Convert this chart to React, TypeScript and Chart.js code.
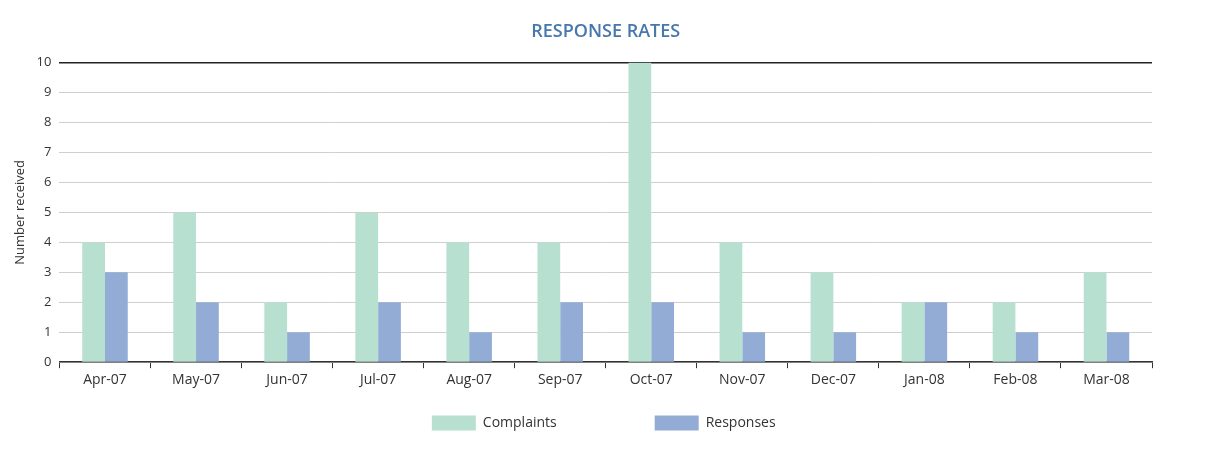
import React, { useEffect, useRef } from "react";
import { Chart, registerables } from "chart.js";

Chart.register(...registerables);

const categories = ["Apr-07", "May-07", "Jun-07", "Jul-07", "Aug-07", "Sep-07", "Oct-07", "Nov-07", "Dec-07", "Jan-08", "Feb-08", "Mar-08"];
const complaints = [4, 5, 2, 5, 4, 4, 10, 4, 3, 2, 2, 3];
const responses = [3, 2, 1, 2, 1, 2, 2, 1, 1, 2, 1, 1];
const yTicks = [0, 1, 2, 3, 4, 5, 6, 7, 8, 9, 10];

const FONT = "'Open Sans', 'DejaVu Sans', sans-serif";
const TEXT = "#333333";
const COMPLAINTS_COLOR = "#b8e0d1";
const RESPONSES_COLOR = "#93acd5";

const bottomLegend = {
  id: "bottomLegend",
  afterDraw(chart: any) {
    const ctx = chart.ctx;
    const area = chart.chartArea;
    const boxW = 44;
    const boxH = 15;
    const gap = 7;
    const between = 98;
    ctx.save();
    ctx.font = `14px ${FONT}`;
    const items = chart.data.datasets.map((ds: any) => ({
      label: ds.label,
      color: ds.backgroundColor,
      w: boxW + gap + ctx.measureText(ds.label).width,
    }));
    const total = items.reduce((s: number, it: any) => s + it.w, 0) + between * (items.length - 1);
    let x = (area.left + area.right) / 2 - total / 2 - 2;
    const cy = 415;
    items.forEach((it: any) => {
      ctx.fillStyle = it.color;
      ctx.fillRect(x, cy - boxH / 2, boxW, boxH);
      ctx.fillStyle = TEXT;
      ctx.textBaseline = "middle";
      ctx.textAlign = "left";
      ctx.fillText(it.label, x + boxW + gap, cy);
      x += it.w + between;
    });
    ctx.restore();
  },
};

export default function App() {
  const ref = useRef<HTMLCanvasElement>(null);
  useEffect(() => {
    if (!ref.current) return;
    const chart = new Chart(ref.current, {
      type: "bar",
      data: {
        labels: categories,
        datasets: [
          { label: "Complaints", data: complaints, backgroundColor: COMPLAINTS_COLOR, categoryPercentage: 0.5, barPercentage: 1.0 },
          { label: "Responses", data: responses, backgroundColor: RESPONSES_COLOR, categoryPercentage: 0.5, barPercentage: 1.0 },
        ],
      },
      options: {
        animation: false,
        responsive: true,
        maintainAspectRatio: false,
        layout: { padding: { left: 0, right: 52, top: 0, bottom: 56 } },
        plugins: {
          legend: { display: false },
          tooltip: { enabled: false },
          title: {
            display: true,
            fullSize: false,
            text: "RESPONSE RATES",
            color: "#4677ad",
            font: { family: FONT, size: 18, weight: 600 },
            padding: { top: 13, bottom: 20 },
          },
        },
        scales: {
          x: {
            grid: { display: true, drawOnChartArea: false, drawTicks: true, tickLength: 6, color: "#333", offset: true },
            border: { display: true, color: "#333", width: 1.5 },
            ticks: { color: TEXT, font: { family: FONT, size: 14 }, padding: 3, maxRotation: 0 },
          },
          y: {
            min: 0,
            max: 10,
            afterBuildTicks: (axis: any) => {
              axis.ticks = yTicks.map((v) => ({ value: v }));
            },
            grid: {
              drawTicks: false,
              color: (c: any) => (c.tick && c.tick.value === 10 ? "#222" : "#cfcfcf"),
              lineWidth: (c: any) => (c.tick && c.tick.value === 10 ? 1.5 : 1),
            },
            border: { display: false },
            ticks: { color: TEXT, font: { family: FONT, size: 13 }, padding: 8 },
            title: {
              display: true,
              text: "Number received",
              color: TEXT,
              font: { family: FONT, size: 13 },
              padding: { top: 4, bottom: 1 },
            },
          },
        },
      },
      plugins: [bottomLegend],
    });
    return () => chart.destroy();
  }, []);
  return (
    <div style={{ width: 1196, height: 439, position: "relative", background: "#fff" }}>
      <canvas ref={ref} />
    </div>
  );
}
